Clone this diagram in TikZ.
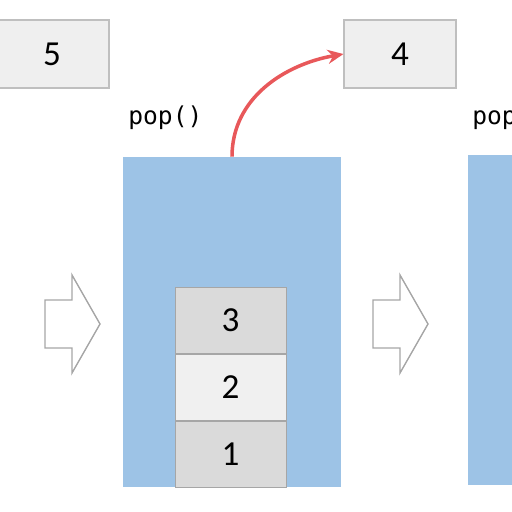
\documentclass[tikz,border=0pt]{standalone}
\usepackage{fontspec}
\setmainfont{Carlito}
\newfontfamily\codefont{DejaVu Sans Mono}
\usepackage{tikz}
\usetikzlibrary{positioning}
\usetikzlibrary{arrows.meta}
\definecolor{stackblue}{HTML}{9DC3E6}
\definecolor{boxfill}{HTML}{EFEFEF}
\definecolor{boxline}{HTML}{BFBFBF}
\definecolor{itemdark}{HTML}{DADADA}
\definecolor{itemlight}{HTML}{F0F0F0}
\definecolor{itemline}{HTML}{A6A6A6}
\definecolor{poparrow}{HTML}{E8585A}
\tikzset{
	valbox/.style={
		draw=boxline,
		fill=boxfill,
		line width=0.6pt,
		minimum width=2.24cm,
		minimum height=1.36cm,
		font=\fontsize{20}{20}\selectfont},
	stackarea/.style={
		fill=stackblue,
		minimum width=4.36cm,
		minimum height=6.6cm},
	item/.style={
		draw=itemline,
		line width=0.5pt,
		minimum width=2.22cm,
		minimum height=1.32cm,
		font=\fontsize{20}{20}\selectfont},
	oplabel/.style={
		font=\codefont\fontsize{14}{14}\selectfont,
		inner sep=0pt},
	hollowarrow/.style={
		draw=gray!70,
		line width=0.8pt,
		fill=white}
}

\begin{document}
\begin{tikzpicture}[x=0.02cm, y=-0.02cm]
	\useasboundingbox (0,0) rectangle (512,512);
	% current stack and the next one, cut off at the side
	\node[stackarea] (stackA) at (232,322) {};
	\node[stackarea] (stackB) at (577,320) {};
	% values
	\node[valbox, minimum width=2.28cm] (val5) at (52,54) {5};
	\node[valbox] (val4) at (400,54) {4};
	% stack contents
	\node[item, fill=itemdark] (s1) at (230.5,454) {1};
	\node[item, fill=itemlight, above=0pt of s1] (s2) {2};
	\node[item, fill=itemdark, above=0pt of s2] (s3) {3};
	% operations
	\node[oplabel, anchor=west] (popA) at (128,118) {pop()};
	\node[oplabel, anchor=west] (popB) at (472,118) {pop()};
	\draw[poparrow, line width=2pt, -{Stealth[length=9pt, width=8pt]}]
		(stackA.north) to[out=90, in=190] (val4.west);
	% step arrows
	\foreach \x in {45, 373} {
		\draw[hollowarrow] (\x,300) -- (\x+27,300) -- (\x+27,275) -- (\x+55,324)
			-- (\x+27,373) -- (\x+27,348) -- (\x,348) -- cycle;
	}
\end{tikzpicture}
\end{document}
